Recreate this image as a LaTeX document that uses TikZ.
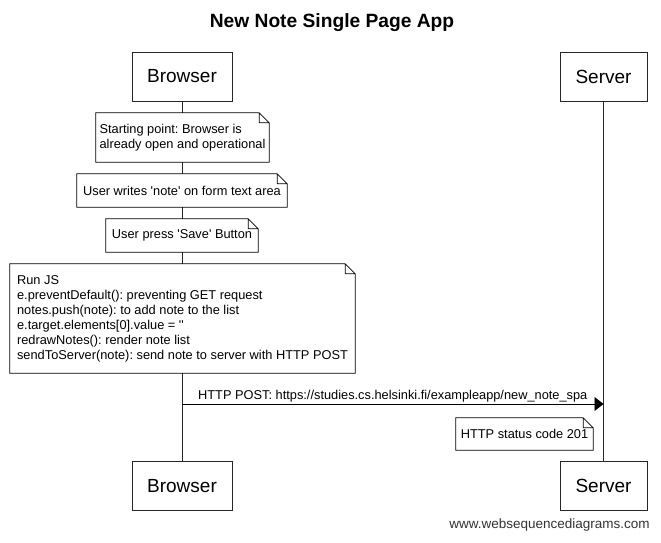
\documentclass[tikz,border=0pt]{standalone}
\usepackage{fontspec}
\setmainfont{Liberation Sans}
\usetikzlibrary{arrows.meta}
\frenchspacing

\begin{document}
\begin{tikzpicture}[x=1pt, y=-1pt,
    actor/.style={draw=black!85, line width=0.9pt, fill=white, minimum height=49pt, inner sep=0pt, font=\fontsize{19}{22}\selectfont},
    note/.style={fill=white, inner sep=0pt, align=left, font=\fontsize{12.8}{15}\selectfont},
    life/.style={draw=black!85, line width=0.9pt},
    msg/.style={line width=0.9pt, -{Triangle[length=9pt,width=14pt]}}]
    \useasboundingbox (0,0) rectangle (661,543);

    \node[font=\bfseries\fontsize{19.2}{22}\selectfont] (title) at (332,23) {New Note Single Page App};

    % participants
    \node[actor, minimum width=100pt] (browserTop) at (182,76.5) {Browser};
    \node[actor, minimum width=87pt] (serverTop) at (603.5,76.5) {Server};
    \node[actor, minimum width=100pt] (browserBot) at (182,486) {Browser};
    \node[actor, minimum width=87pt] (serverBot) at (603.5,486) {Server};
    \draw[life] (browserTop) -- (browserBot);
    \draw[life] (serverTop) -- (serverBot);

    % notes on the browser
    \node[note, minimum width=173pt, minimum height=49pt] (start) at (182.5,137.5) {Starting point: Browser is\\already open and operational};
    \node[note, minimum width=210pt, minimum height=33pt] (write) at (182,190.5) {User writes \textquotesingle note\textquotesingle{} on form text area};
    \node[note, minimum width=152pt, minimum height=33pt] (press) at (182,235.5) {User press \textquotesingle Save\textquotesingle{} Button};
    \node[note, minimum width=345pt, minimum height=109pt] (runjs) at (182.5,318.5) {Run JS\\e.preventDefault(): preventing GET request\\notes.push(note): to add note to the list\\e.target.elements[0].value = \textquotesingle\textquotesingle\\redrawNotes(): render note list\\sendToServer(note): send note to server with HTTP POST};

    % request to the server
    \coordinate (postFrom) at (182,404);
    \coordinate (postTo) at (603.5,404);
    \draw[msg] (postFrom) -- node[above, inner sep=1.5pt, font=\fontsize{12.8}{15}\selectfont] {HTTP POST: https://studies.cs.helsinki.fi/exampleapp/new\_note\_spa} (postTo);
    \node[note, minimum width=137pt, minimum height=32pt] (status) at (524.5,434) {HTTP status code 201};

    % folded corners
    \foreach \n in {start,write,press,runjs,status}
        \draw[line width=0.8pt] (\n.south west) -- (\n.south east) -- ([yshift=-10pt]\n.north east) -- ([xshift=-10pt]\n.north east) -- (\n.north west) -- cycle
            ([xshift=-10pt]\n.north east) |- ([yshift=-10pt]\n.north east);

    \node[text=black!80, font=\fontsize{13.5}{16}\selectfont] (footer) at (549.5,525) {www.websequencediagrams.com};
\end{tikzpicture}
\end{document}
